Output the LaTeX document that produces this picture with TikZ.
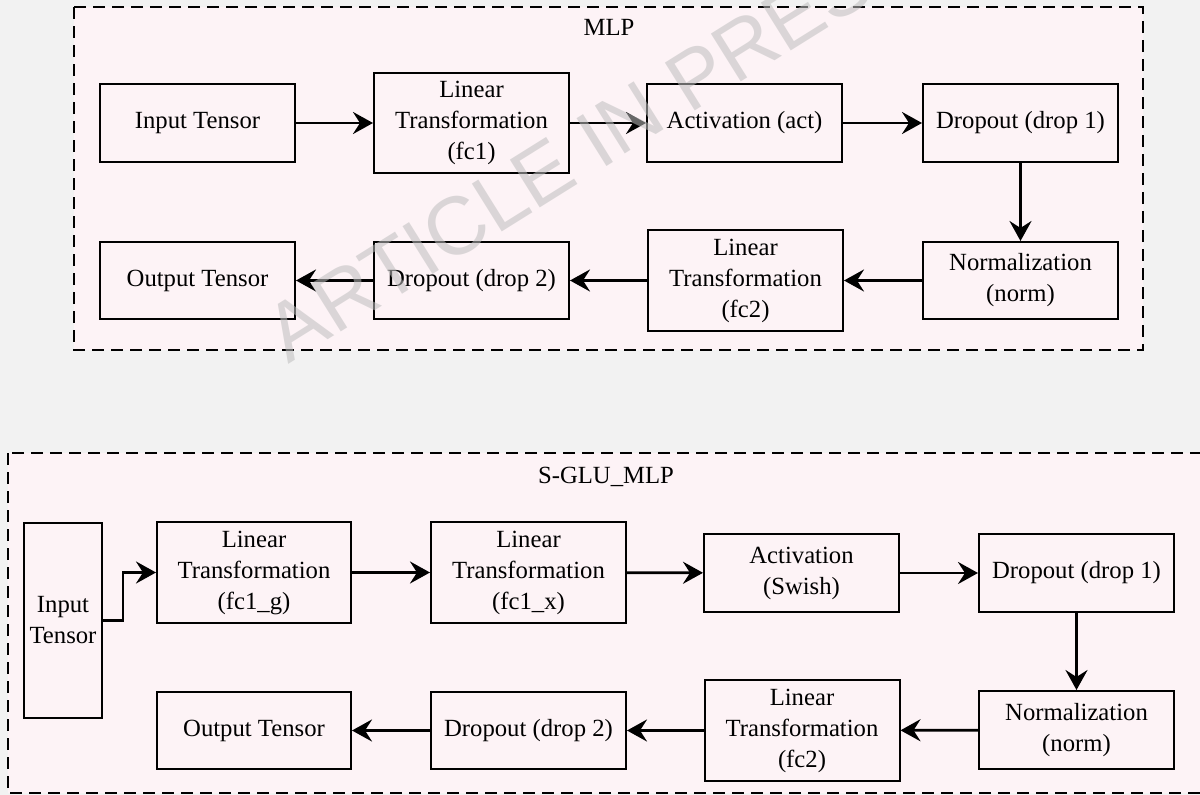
\documentclass[tikz,border=0pt]{standalone}
\usepackage{fontspec}
\setmainfont{Liberation Serif}
\newfontfamily\wmfont{Liberation Sans}
\usetikzlibrary{arrows.meta}
\definecolor{bgc}{HTML}{F2F2F2}
\definecolor{panelc}{HTML}{FDF3F6}
\definecolor{wmc}{HTML}{BEBEBE}
\begin{document}
\begin{tikzpicture}[x=1pt,y=-1pt,
  box/.style={draw, line width=2pt, align=center, inner sep=0pt,
    minimum width=195pt, font=\fontsize{24.7}{31}\selectfont},
  arr/.style={line width=2.8pt, -{Stealth[length=20pt,width=22pt,inset=7pt]}},
  panel/.style={draw, dash pattern=on 12pt off 7pt, line width=1.8pt, fill=panelc},
  title/.style={font=\fontsize{24.7}{31}\selectfont, inner sep=0pt}]
\clip (0,0) rectangle (1200,795);
\fill[bgc] (0,0) rectangle (1200,795);
% panels
\draw[panel] (74,7) rectangle (1143,350);
\draw[panel] (8,453) rectangle (1215,793);
\node[title] (t1) at (609,27) {MLP};
\node[title] (t2) at (606,477) {S-GLU\_MLP};
% MLP boxes
\node[box, minimum height=78pt] (in1) at (197.5,123) {Input Tensor};
\node[box, minimum height=100pt] (fc1) at (471.5,123) {Linear\\Transformation\\(fc1)};
\node[box, minimum height=78pt] (act) at (744.5,123) {Activation (act)};
\node[box, minimum height=78pt] (d1) at (1020.5,123) {Dropout (drop 1)};
\node[box, minimum height=77pt] (out1) at (197.5,280.5) {Output Tensor};
\node[box, minimum height=77pt] (d2) at (471.5,280.5) {Dropout (drop 2)};
\node[box, minimum height=101pt] (fc2) at (745.5,280.5) {Linear\\Transformation\\(fc2)};
\node[box, minimum height=77pt] (norm1) at (1020.5,280.5) {Normalization\\(norm)};
\draw[arr] (in1) -- (fc1);
\draw[arr] (fc1) -- (act);
\draw[arr] (act) -- (d1);
\draw[arr] (d1) -- (norm1);
\draw[arr] (norm1) -- (fc2);
\draw[arr] (fc2) -- (d2);
\draw[arr] (d2) -- (out1);
% S-GLU boxes
\node[box, minimum width=78pt, minimum height=195pt] (in2) at (63,620.5) {Input\\Tensor};
\node[box, minimum width=194pt, minimum height=101pt] (g) at (254,572.5) {Linear\\Transformation\\(fc1\_g)};
\node[box, minimum height=101pt] (xb) at (528.5,572.5) {Linear\\Transformation\\(fc1\_x)};
\node[box, minimum height=78pt] (sw) at (801.5,573) {Activation\\(Swish)};
\node[box, minimum height=78pt] (d1b) at (1076.5,573) {Dropout (drop 1)};
\node[box, minimum width=194pt, minimum height=77pt] (out2) at (254,730.5) {Output Tensor};
\node[box, minimum height=77pt] (d2b) at (528.5,730.5) {Dropout (drop 2)};
\node[box, minimum height=101pt] (fc2b) at (802,730.5) {Linear\\Transformation\\(fc2)};
\node[box, minimum height=78pt] (norm2) at (1076.5,730) {Normalization\\(norm)};
\draw[arr] (in2.east) -- ++(20,0) |- (g.west);
\draw[arr] (g) -- (xb);
\draw[arr] (xb) -- (sw);
\draw[arr] (sw) -- (d1b);
\draw[arr] (d1b) -- (norm2);
\draw[arr] (norm2) -- (fc2b);
\draw[arr] (fc2b) -- (d2b);
\draw[arr] (d2b) -- (out2);
% watermark
\node[rotate=32, text=wmc, text opacity=0.55, inner sep=0pt,
  font=\wmfont\fontsize{82}{82}\selectfont] (wm) at (592,142) {ARTICLE IN PRESS};
\end{tikzpicture}
\end{document}
